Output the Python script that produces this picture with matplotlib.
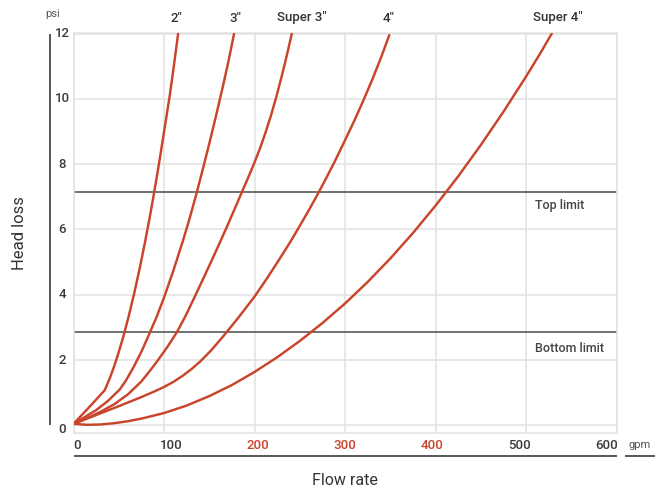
import matplotlib
matplotlib.use('Agg')
import matplotlib.pyplot as plt

# ---- data ----
flow_2in = [0, 17, 34.5, 40, 45, 50, 55, 61, 67, 73, 79, 84, 88, 93, 99, 106, 111, 115.5]
head_2in = [0.05, 0.55, 1.08, 1.44, 1.82, 2.25, 2.72, 3.35, 4.04, 4.8, 5.62, 6.35, 6.97, 7.78, 8.82, 10.05, 11.05, 12.0]

flow_3in = [0, 12, 25, 38, 51, 58, 66, 75, 83, 92, 100, 110, 121, 128, 135, 143, 150, 157, 165, 171, 177.3]
head_3in = [0.05, 0.25, 0.47, 0.75, 1.1, 1.38, 1.77, 2.26, 2.76, 3.34, 3.92, 4.72, 5.67, 6.32, 7.02, 7.87, 8.64, 9.44, 10.39, 11.14, 12.0]

flow_s3in = [0, 15, 30, 45, 60, 75, 84, 93, 104, 114, 124, 134, 145, 157, 169, 177, 185.5, 193, 199.5, 206, 212, 218, 224, 229, 233, 237, 241]
head_s3in = [0.05, 0.22, 0.42, 0.65, 0.95, 1.35, 1.66, 1.99, 2.42, 2.85, 3.37, 3.95, 4.6, 5.32, 6.06, 6.57, 7.12, 7.6, 8.03, 8.49, 8.97, 9.49, 10.07, 10.6, 11.04, 11.51, 12.0]

flow_4in = [0, 25, 50, 75, 90, 100, 110, 120, 130, 140, 152, 165, 182, 200, 214, 228, 240, 250, 260, 268, 278, 288, 298, 310, 320, 330, 340, 348.6]
head_4in = [0.05, 0.32, 0.59, 0.87, 1.05, 1.18, 1.33, 1.51, 1.72, 1.96, 2.3, 2.72, 3.3, 3.95, 4.52, 5.12, 5.65, 6.12, 6.6, 7.0, 7.52, 8.06, 8.63, 9.33, 9.95, 10.6, 11.3, 11.95]

flow_s4in = [0, 15, 30, 45, 60, 75, 100, 125, 150, 175, 200, 225, 250, 275, 300, 325, 350, 375, 400, 425, 450, 475, 500, 515, 528]
head_s4in = [0.05, 0.02, 0.03, 0.07, 0.13, 0.21, 0.38, 0.61, 0.9, 1.24, 1.64, 2.09, 2.59, 3.14, 3.74, 4.4, 5.12, 5.9, 6.74, 7.64, 8.6, 9.62, 10.7, 11.38, 12.0]

series_names = ['2"', '3"', 'Super 3"', '4"', 'Super 4"']
series_label_x = [114, 179, 252, 348, 535]

x_ticks = [0, 100, 200, 300, 400, 500, 600]
x_tick_labels = ['0', '100', '200', '300', '400', '500', '600']
highlight_ticks = ['200', '300', '400']
y_ticks = [0, 2, 4, 6, 8, 10, 12]
y_tick_labels = ['0', '2', '4', '6', '8', '10', '12']

top_limit = 7.15
bottom_limit = 2.85
limit_names = ['Top limit', 'Bottom limit']

# ---- style ----
plt.rcParams['font.family'] = ['Roboto', 'DejaVu Sans']
RED = '#c9442a'
GRID = '#e2e2e2'
DARK = '#4a4a4a'
TXT = '#444444'
# horizontal pixel nudges of the x tick labels (as laid out in the reference)
x_label_nudge_px = [3.3, 7.4, 3.2, -0.5, -4.2, -7.1, -10.6]
PT = 72 / 100  # points per pixel at dpi 100

fig = plt.figure(figsize=(6.72, 4.9), dpi=100)
W, H = 672, 490
left_px, right_px, top_px, bot_px = 73.5, 617, 33.5, 433.3
ax = fig.add_axes([left_px / W, 1 - bot_px / H, (right_px - left_px) / W, (bot_px - top_px) / H])
ax.set_xlim(0, 600)
ax.set_ylim(-0.24, 12)

ax.set_xticks(x_ticks)
ax.set_yticks(y_ticks)
ax.set_xticklabels([])
ax.set_yticklabels([])
ax.grid(True, color=GRID, lw=1.1, zorder=0)
for s in ax.spines.values():
    s.set_color(GRID)
    s.set_linewidth(1.1)
ax.tick_params(axis='both', length=0)

# x tick labels
for val, txt, dx in zip(x_ticks, x_tick_labels, x_label_nudge_px):
    ax.annotate(txt, xy=(val, 0), xycoords=('data', 'axes fraction'),
                xytext=(dx * PT, -12.4 * PT), textcoords='offset points',
                ha='center', va='center', fontsize=9.5, fontweight='medium',
                color=RED if txt in highlight_ticks else '#3a3a3a', annotation_clip=False)
# y tick labels
for val, txt in zip(y_ticks, y_tick_labels):
    dy = -4.5 if val == 0 else 0
    ax.annotate(txt, xy=(0, val), xycoords=('axes fraction', 'data'),
                xytext=(-11.5 * PT, dy * PT), textcoords='offset points',
                ha='center', va='center', fontsize=9.5, fontweight='medium',
                color='#3a3a3a', annotation_clip=False)

# limit lines
ax.axhline(top_limit, color=DARK, lw=1.1, zorder=2)
ax.axhline(bottom_limit, color=DARK, lw=1.1, zorder=2)
ax.annotate(limit_names[0], xy=(509, top_limit), xytext=(0, -13.4 * PT), textcoords='offset points',
            ha='left', va='center', fontsize=9, color=TXT, fontweight='medium')
ax.annotate(limit_names[1], xy=(509, bottom_limit), xytext=(0, -16 * PT), textcoords='offset points',
            ha='left', va='center', fontsize=9, color=TXT, fontweight='medium')

# curves
flows = [flow_2in, flow_3in, flow_s3in, flow_4in, flow_s4in]
heads = [head_2in, head_3in, head_s3in, head_4in, head_s4in]
for fx, hy in zip(flows, heads):
    ax.plot(fx, hy, color=RED, lw=1.75, solid_capstyle='round', solid_joinstyle='round', zorder=3)

# curve names on top
for name, lx in zip(series_names, series_label_x):
    ax.annotate(name, xy=(lx, 1.0), xycoords=('data', 'axes fraction'), xytext=(0, 15.5 * PT),
                textcoords='offset points', ha='center', va='center', fontsize=9.5,
                color='#333333', fontweight='medium', annotation_clip=False)

# dark axis lines
axw = right_px - left_px
axh = bot_px - top_px
ax.plot([-(left_px - 50) / axw] * 2, [0, 12], transform=ax.get_yaxis_transform(),
        color=DARK, lw=1.3, clip_on=False, solid_capstyle='butt')
ax.plot([0, 600], [-(456 - bot_px) / axh] * 2, transform=ax.get_xaxis_transform(),
        color=DARK, lw=1.3, clip_on=False, solid_capstyle='butt')
ax.plot([(625 - left_px) / axw, (655 - left_px) / axw], [-(456 - bot_px) / axh] * 2,
        transform=ax.transAxes, color=DARK, lw=1.3, clip_on=False, solid_capstyle='butt')

# unit labels and axis titles
fig.text(640 / W, 1 - 445 / H, 'gpm', ha='center', va='center', fontsize=8, color='#555555')
fig.text(52.5 / W, 1 - 14 / H, 'psi', ha='center', va='center', fontsize=8, color='#555555')
fig.text((left_px + right_px) / 2 / W, 1 - 480 / H, 'Flow rate', ha='center', va='center',
         fontsize=11.5, color='#333333')
fig.text(20 / W, 1 - 233 / H, 'Head loss', ha='center', va='center', rotation=90,
         fontsize=12, color='#333333')

fig.savefig('out.png', dpi=100)
